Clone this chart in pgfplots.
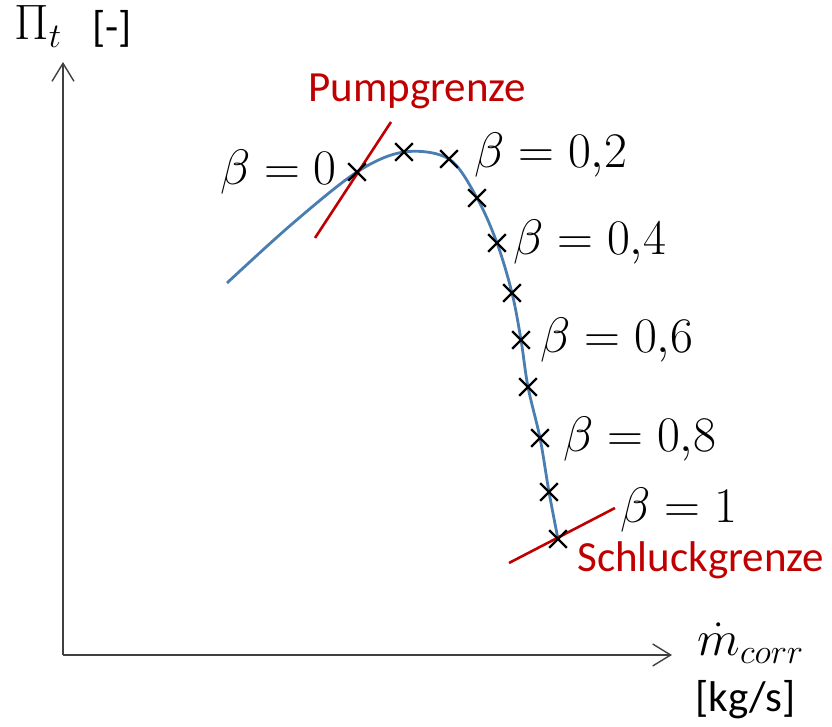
\documentclass[border=0pt]{standalone}
\usepackage{pgfplots}
\pgfplotsset{compat=1.18}
\usepackage{fontspec}
\setmainfont{Carlito}
\usetikzlibrary{arrows.meta}

\definecolor{curveblue}{RGB}{74,126,176}
\definecolor{limitred}{RGB}{192,0,0}
\definecolor{axisgray}{RGB}{64,64,64}

\begin{document}
\begin{tikzpicture}
\begin{axis}[
  x=0.5pt, y=0.5pt,
  xmin=63, xmax=672, ymin=72, ymax=665,
  enlargelimits=false,
  axis lines=left,
  axis line style={axisgray, line width=0.7pt, -{Straight Barb[length=9pt,width=11pt,line width=0.7pt]}},
  xtick=\empty, ytick=\empty,
  clip=false,
]
  % characteristic curve
  \addplot[curveblue, line width=1.4pt, smooth, tension=0.55] coordinates {
    (227,444) (292,503) (357,555) (404,575) (449,568) (477,529)
    (497,484) (512,434) (521,387) (528,340) (540,289) (549,235) (558,188)
  };
  % surge and choke limit lines
  \addplot[limitred, line width=1.3pt] coordinates {(315,489) (391,605)};
  \addplot[limitred, line width=1.3pt] coordinates {(509,164) (615,219)};
  % operating points beta = 0 ... 1
  \addplot[only marks, mark=x, mark size=6.2pt, mark options={black, line width=1.1pt}] coordinates {
    (357,555) (404,575) (449,568) (477,529) (497,484) (512,434)
    (521,387) (528,340) (540,289) (549,235) (558,188)
  };

  \begin{scope}[every node/.style={inner sep=0pt, font=\fontsize{21.5}{26}\selectfont},
                mathlbl/.style={font=\fontsize{23.5}{28}\selectfont}]
    \node[mathlbl, anchor=base east] at (axis cs:337,542) {$\beta=0$};
    \node[mathlbl, anchor=base west] at (axis cs:474,559) {$\beta=0{,}2$};
    \node[mathlbl, anchor=base west] at (axis cs:513,472) {$\beta=0{,}4$};
    \node[mathlbl, anchor=base west] at (axis cs:540,374) {$\beta=0{,}6$};
    \node[mathlbl, anchor=base west] at (axis cs:563,275) {$\beta=0{,}8$};
    \node[mathlbl, anchor=base west] at (axis cs:620,204) {$\beta=1$};
    \node[anchor=base west, text=limitred] at (axis cs:308,625) {Pumpgrenze};
    \node[anchor=base west, text=limitred] at (axis cs:577,155) {Schluckgrenze};
    \node[mathlbl, anchor=base west] at (axis cs:14,687) {$\Pi_t$};
    \node[anchor=base west] at (axis cs:92,685) {[-]};
    \node[mathlbl, anchor=base west] at (axis cs:697,71) {$\dot{m}_{corr}$};
    \node[anchor=base west] at (axis cs:695,15) {[kg/s]};
  \end{scope}

  \coordinate (bbl) at (axis cs:0,0);
  \coordinate (btr) at (axis cs:832,727);
\end{axis}
\pgfresetboundingbox
\useasboundingbox (bbl) rectangle (btr);
\end{tikzpicture}
\end{document}
